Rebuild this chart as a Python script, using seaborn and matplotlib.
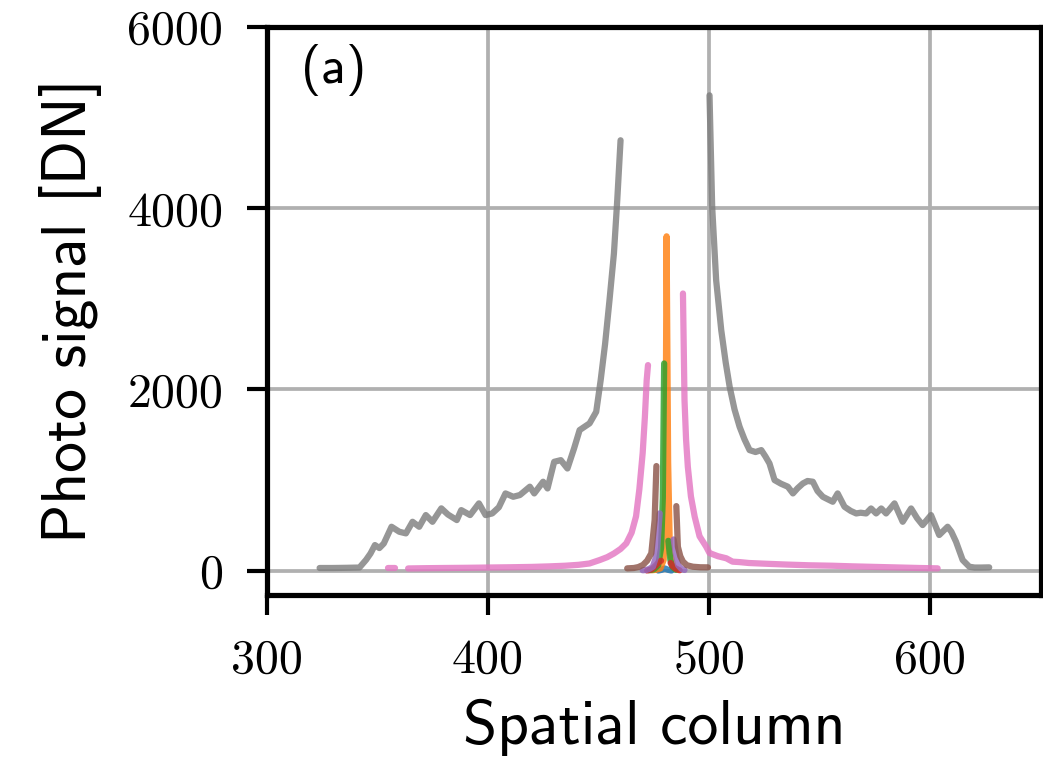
import numpy as np
import pandas as pd
import matplotlib
matplotlib.use("Agg")
import matplotlib.pyplot as plt
import seaborn as sns

# ---------------- data ----------------
x_ticks = [300, 400, 500, 600]
x_tick_labels = ["300", "400", "500", "600"]
y_ticks = [0, 2000, 4000, 6000]
y_tick_labels = ["0", "2000", "4000", "6000"]

series_names = ["blue", "orange", "green", "red", "purple", "brown", "pink", "gray"]

blue_x = [477, 478.5, 480, 481.5, 483]
blue_y = [2, 10, 25, 10, 2]

orange_x = [474, 476, 478, 479.5, 480.3, 480.8, 481.5, 482.3, 484, 486]
orange_y = [5, 10, 25, 120, 1000, 3690, 1200, 200, 40, 10]

green_left_x = [473, 475, 477, 478.3, 479.1, 479.7]
green_left_y = [5, 15, 60, 250, 800, 2287]
green_right_x = [481.6, 482.5, 483.5, 485]
green_right_y = [330, 120, 40, 10]

red_left_x = [472, 474, 476, 477.5, 478.3]
red_left_y = [2, 15, 60, 100, 110]
red_right_x = [482.6, 483.5, 485, 486.7]
red_right_y = [85, 50, 20, 5]

purple_left_x = [470, 471.6, 473, 474.6, 476, 476.9, 477.7]
purple_left_y = [5, 8, 20, 44, 150, 375, 633]
purple_right_x = [484.0, 485.2, 486, 487.5, 488.9]
purple_right_y = [345, 155, 60, 20, 8]

brown_left_x = [463, 466, 468, 470.1, 472, 473.9, 475.4, 476.2]
brown_left_y = [26, 30, 40, 63, 110, 192, 559, 1155]
brown_right_x = [485.2, 485.9, 487, 488.2, 490, 492.7, 496, 499.5]
brown_right_y = [713, 265, 160, 100, 60, 44, 38, 37]

pink_dot_x = [355, 358]
pink_dot_y = [30, 30]
pink_left_x = [364, 372, 380, 390, 400, 410, 420, 428, 435, 441, 446, 450.6,
               454, 457, 460, 462.6, 465, 467, 468.5, 470, 471, 471.8, 472.4]
pink_left_y = [25, 28, 30, 32, 35, 38, 42, 48, 55, 65, 80, 118,
               150, 190, 240, 302, 420, 600, 900, 1300, 1700, 2100, 2269]
pink_right_x = [488.2, 488.9, 489.6, 490.4, 491.8, 493.5, 495.7, 498.7, 500.2,
                504, 507.8, 510.6, 513.8, 518, 525.6, 535, 545, 555.7, 565,
                575, 585, 595, 603.3]
pink_right_y = [3059, 1883, 1450, 1147, 820, 596, 380, 265, 195,
                160, 137, 100, 95, 85, 77, 68, 60, 55, 48,
                42, 36, 30, 26]

gray_left_x = [324, 330, 336, 342, 345, 347, 349, 351, 353, 356.5, 360, 363,
               366, 369, 372, 375, 379, 382, 386, 388, 392, 396, 399, 402,
               405, 408, 411.5, 414.5, 419, 421, 425, 427, 430, 433, 436, 439,
               441.5, 446, 449, 451, 453, 455, 457, 458.5, 460]
gray_left_y = [30, 30, 32, 35, 120, 190, 283, 250, 300, 485, 430, 412,
               540, 485, 614, 540, 688, 620, 559, 669, 614, 743, 614, 632,
               700, 853, 816, 835, 927, 853, 982, 908, 1202, 1220, 1128, 1350,
               1552, 1626, 1754, 2100, 2500, 2985, 3500, 4088, 4750]
gray_right_x = [500.2, 501.4, 503.2, 505.5, 507.5, 509.3, 511.5, 513.8, 516,
                518.3, 521, 523.6, 525.5, 527.3, 529.6, 532.5, 535.6, 537.9,
                540, 542.4, 544.5, 546.9, 549, 551.4, 553.5, 555.9, 558.1,
                561.2, 564, 566.5, 568.5, 571, 573.2, 575.5, 577.8, 580,
                583.8, 587.5, 591.3, 594, 596.5, 600.3, 604, 607.8, 609.5,
                611.6, 614.6, 617.6, 620, 623, 626.6]
gray_right_y = [5246, 4015, 3206, 2655, 2300, 2030, 1780, 1588, 1450,
                1331, 1310, 1331, 1260, 1184, 1000, 960, 927, 853,
                910, 963, 990, 982, 880, 816, 790, 761, 853,
                706, 660, 632, 640, 632, 687, 632, 687, 632,
                743, 540, 687, 580, 504, 614, 394, 485, 430,
                320, 118, 44, 35, 35, 37]

segments = [
    ("blue", "b0", blue_x, blue_y),
    ("orange", "o0", orange_x, orange_y),
    ("green", "g0", green_left_x, green_left_y),
    ("green", "g1", green_right_x, green_right_y),
    ("red", "r0", red_left_x, red_left_y),
    ("red", "r1", red_right_x, red_right_y),
    ("purple", "p0", purple_left_x, purple_left_y),
    ("purple", "p1", purple_right_x, purple_right_y),
    ("brown", "br0", brown_left_x, brown_left_y),
    ("brown", "br1", brown_right_x, brown_right_y),
    ("pink", "pk0", pink_dot_x, pink_dot_y),
    ("pink", "pk1", pink_left_x, pink_left_y),
    ("pink", "pk2", pink_right_x, pink_right_y),
    ("gray", "gr0", gray_left_x, gray_left_y),
    ("gray", "gr1", gray_right_x, gray_right_y),
]

rows = []
for name, seg, xs, ys in segments:
    for xv, yv in zip(xs, ys):
        rows.append({"column": xv, "signal": yv, "series": name, "segment": seg})
df = pd.DataFrame(rows)

palette = {"blue": "#1f77b4", "orange": "#ff7f0e", "green": "#2ca02c",
           "red": "#d62728", "purple": "#9467bd", "brown": "#8c564b",
           "pink": "#e377c2", "gray": "#7f7f7f"}

# ---------------- figure ----------------
sns.set_style("white")
plt.rcParams["axes.unicode_minus"] = False
plt.rcParams["text.color"] = "black"
plt.rcParams["axes.labelcolor"] = "black"
plt.rcParams["xtick.color"] = "black"
plt.rcParams["ytick.color"] = "black"

fig = plt.figure(figsize=(1043 / 300, 761 / 300), dpi=300)
ax = fig.add_axes([266.5 / 1043, 1 - 595 / 761, (1041 - 266.5) / 1043, (595 - 27) / 761])

sns.lineplot(data=df, x="column", y="signal", hue="series", units="segment",
             estimator=None, sort=False, hue_order=series_names,
             palette=palette, linewidth=1.5, alpha=0.82, legend=False, ax=ax)

ax.set_xlim(300, 650)
ax.set_ylim(-268, 6000)
ax.grid(True, color="#b0b0b0", linewidth=0.9)
ax.set_axisbelow(True)

for sp in ax.spines.values():
    sp.set_visible(True)
    sp.set_color("black")
    sp.set_linewidth(1.25)

ax.set_xticks(x_ticks)
ax.set_xticklabels(x_tick_labels, fontfamily="cmr10", fontsize=11.5, color="black")
ax.set_yticks(y_ticks)
ax.set_yticklabels(y_tick_labels, fontfamily="cmr10", fontsize=11.5, color="black")
ax.tick_params(axis="both", direction="out", length=4.9, width=1.0,
               color="black", labelcolor="black", pad=5.5, bottom=True, left=True)

ax.set_xlabel("Spatial column", fontfamily="cmss10", fontsize=14.8, labelpad=4,
              color="black")
ax.set_ylabel("Photo signal [DN]", fontfamily="cmss10", fontsize=14.8, labelpad=6,
              color="black")

ax.text(0.045, 0.925, "(a)", transform=ax.transAxes, fontfamily="cmss10",
        fontsize=12.5, ha="left", va="center", color="black")

fig.savefig("out.png", dpi=300)
